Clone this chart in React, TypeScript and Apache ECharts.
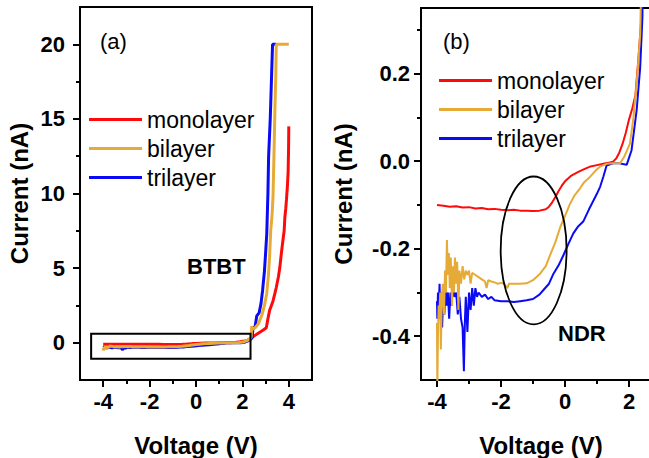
import React, { useEffect, useRef } from "react";
import * as echarts from "echarts";

const NAMES = ["monolayer", "bilayer", "trilayer"];
const COLORS = ["#FF0A0A", "#E6AA36", "#0A0AF5"];

// monolayer (red)
const monoV = [-4.0, -3.8, -3.6, -3.4, -3.2, -3.0, -2.8, -2.6, -2.4, -2.2, -2.0, -1.8, -1.6, -1.4, -1.2, -1.0, -0.8, -0.6, -0.5, -0.4, -0.3, -0.2, -0.1, 0.0, 0.2, 0.4, 0.6, 0.8, 1.0, 1.2, 1.4, 1.5, 1.6, 1.7, 1.8, 1.9, 2.0, 2.1, 2.2, 2.3, 2.4, 2.5, 2.7, 2.9, 3.03, 3.1, 3.17, 3.25, 3.32, 3.4, 3.46, 3.55, 3.61, 3.68, 3.75, 3.8, 3.83, 3.87, 3.9, 3.94, 3.97, 3.99, 4.0];
const monoI = [-0.1, -0.102, -0.104, -0.103, -0.106, -0.105, -0.108, -0.107, -0.11, -0.109, -0.111, -0.112, -0.111, -0.113, -0.113, -0.114, -0.113, -0.11, -0.104, -0.094, -0.082, -0.068, -0.056, -0.046, -0.033, -0.025, -0.018, -0.012, -0.009, -0.006, -0.003, -0.001, 0.006, 0.02, 0.04, 0.065, 0.095, 0.12, 0.15, 0.24, 0.34, 0.45, 0.65, 0.85, 1.0, 1.6, 2.15, 2.5, 2.8, 3.3, 3.7, 4.4, 5.0, 6.0, 6.9, 7.5, 8.4, 9.0, 9.6, 10.5, 11.4, 13.0, 14.5];

// bilayer (orange)
const biV = [-4.0, -3.99, -3.97, -3.95, -3.93, -3.9, -3.88, -3.85, -3.82, -3.78, -3.75, -3.72, -3.69, -3.66, -3.63, -3.6, -3.57, -3.53, -3.5, -3.47, -3.44, -3.4, -3.37, -3.33, -3.3, -3.25, -3.2, -3.15, -3.1, -3.05, -3.0, -2.95, -2.9, -2.8, -2.7, -2.6, -2.5, -2.45, -2.4, -2.3, -2.2, -2.1, -2.0, -1.9, -1.8, -1.75, -1.6, -1.4, -1.2, -1.0, -0.78, -0.6, -0.47, -0.3, -0.15, 0.0, 0.16, 0.3, 0.47, 0.6, 0.78, 0.95, 1.1, 1.3, 1.5, 1.72, 1.85, 2.03, 2.14, 2.24, 2.35, 2.38, 2.4, 2.45, 2.55, 2.7, 2.85, 2.95, 3.05, 3.12, 3.17, 3.22, 3.28, 3.32, 3.36, 3.4, 3.44, 3.46, 4.0];
const biI = [-0.37, -0.52, -0.4, -0.33, -0.36, -0.3, -0.43, -0.32, -0.28, -0.35, -0.25, -0.3, -0.18, -0.26, -0.21, -0.29, -0.22, -0.33, -0.24, -0.3, -0.22, -0.28, -0.23, -0.34, -0.25, -0.28, -0.24, -0.27, -0.25, -0.26, -0.25, -0.28, -0.255, -0.26, -0.265, -0.27, -0.275, -0.29, -0.272, -0.275, -0.277, -0.28, -0.278, -0.28, -0.29, -0.28, -0.28, -0.28, -0.279, -0.272, -0.257, -0.24, -0.215, -0.185, -0.151, -0.125, -0.097, -0.078, -0.062, -0.048, -0.036, -0.022, -0.012, -0.006, -0.005, -0.005, 0.01, 0.04, 0.1, 0.178, 0.29, 0.4, 1.1, 0.9, 1.0, 1.3, 1.9, 2.5, 3.3, 4.5, 5.7, 7.5, 8.6, 9.8, 12.5, 15.5, 18.0, 20.0, 20.0];

// trilayer (blue)
const triV = [-4.0, -3.99, -3.97, -3.95, -3.92, -3.9, -3.87, -3.84, -3.8, -3.77, -3.74, -3.7, -3.66, -3.62, -3.58, -3.55, -3.5, -3.45, -3.4, -3.35, -3.3, -3.25, -3.2, -3.16, -3.13, -3.1, -3.05, -3.0, -2.95, -2.9, -2.85, -2.8, -2.75, -2.7, -2.6, -2.5, -2.4, -2.3, -2.2, -2.0, -1.8, -1.6, -1.4, -1.2, -1.0, -0.8, -0.68, -0.5, -0.36, -0.2, -0.05, 0.1, 0.26, 0.4, 0.57, 0.75, 0.89, 1.0, 1.1, 1.2, 1.3, 1.5, 1.7, 1.93, 2.08, 2.24, 2.35, 2.42, 2.45, 2.55, 2.62, 2.72, 2.8, 2.87, 2.95, 3.0, 3.05, 3.1, 3.13, 3.2, 3.26, 3.3, 3.45];
const triI = [-0.32, -0.36, -0.3, -0.34, -0.28, -0.36, -0.3, -0.38, -0.29, -0.35, -0.29, -0.33, -0.3, -0.36, -0.3, -0.33, -0.29, -0.31, -0.3, -0.35, -0.31, -0.36, -0.38, -0.48, -0.37, -0.31, -0.39, -0.3, -0.34, -0.29, -0.33, -0.29, -0.31, -0.3, -0.31, -0.305, -0.315, -0.31, -0.318, -0.32, -0.32, -0.322, -0.32, -0.318, -0.315, -0.305, -0.295, -0.28, -0.257, -0.238, -0.215, -0.19, -0.165, -0.15, -0.138, -0.11, -0.09, -0.074, -0.058, -0.035, -0.01, -0.005, -0.005, -0.008, 0.025, 0.117, 0.215, 0.33, 0.9, 1.1, 1.8, 2.0, 2.6, 3.5, 4.8, 6.0, 7.3, 10.0, 12.5, 15.0, 18.0, 20.0, 20.0];

// annotations
const boxV = [-4.52, 2.35]; // rectangle in (a)
const boxI = [-1.08, 0.6];
const ndrCenter = [-0.98, -0.204]; // ellipse in (b)
const ndrRadius = [1.03, 0.169];

// axes ticks
const aXMajor = [-4, -2, 0, 2, 4];
const aXMinor = [-3, -1, 1, 3];
const aYMajor = [0, 5, 10, 15, 20];
const aYMinor = [2.5, 7.5, 12.5, 17.5];
const bXMajor = [-4, -2, 0, 2];
const bXMinor = [-3, -1, 1];
const bYMajor = [-0.4, -0.2, 0.0, 0.2];
const bYMinor = [-0.3, -0.1, 0.1, 0.3];

const FONT = '"Liberation Sans", Arial, sans-serif';

const pairs = (v: number[], i: number[]) => v.map((x, k) => [x, i[k]]);

function axisPair(
  kind: "x" | "y",
  grid: number,
  min: number,
  max: number,
  major: number[],
  minor: number[],
  fmt: (v: number) => string,
  margin: number,
  name: string,
  nameGap: number
) {
  const main: any = {
    type: "value",
    gridIndex: grid,
    min,
    max,
    position: kind === "x" ? "bottom" : "left",
    axisLine: { show: true, onZero: false, lineStyle: { color: "#000", width: 2 } },
    axisTick: {
      show: true,
      customValues: [...major, ...minor].sort((a, b) => a - b),
      length: 4,
      lineStyle: { color: "#000", width: 2 },
    },
    axisLabel: {
      show: true,
      customValues: major,
      formatter: fmt,
      margin,
      color: "#000",
      fontSize: 22,
      fontWeight: "bold",
      fontFamily: FONT,
    },
    splitLine: { show: false },
    name,
    nameLocation: "middle",
    nameGap,
    nameTextStyle: { color: "#000", fontSize: 24, fontWeight: "bold", fontFamily: FONT },
  };
  const over: any = {
    type: "value",
    gridIndex: grid,
    min,
    max,
    position: kind === "x" ? "bottom" : "left",
    axisLine: { show: false, onZero: false },
    axisTick: { show: true, customValues: major, length: 7, lineStyle: { color: "#000", width: 2 } },
    axisLabel: { show: false },
    splitLine: { show: false },
  };
  return [main, over];
}

export default function App() {
  const ref = useRef<HTMLDivElement>(null);
  useEffect(() => {
    if (!ref.current) return;
    const chart = echarts.init(ref.current, undefined, { renderer: "svg" });
    const datasets = [pairs(monoV, monoI), pairs(biV, biI), pairs(triV, triI)];
    const order = [0, 2, 1]; // draw orange on top
    const lineSeries: any[] = [];
    [0, 1].forEach((panel) => {
      order.forEach((k, zi) => {
        lineSeries.push({
          type: "line",
          name: NAMES[k],
          xAxisIndex: panel * 2,
          yAxisIndex: panel * 2,
          data: datasets[k],
          showSymbol: false,
          symbol: "none",
          clip: true,
          z: 2 + zi,
          lineStyle: { color: COLORS[k], width: panel === 0 ? 3 : 2 },
          itemStyle: { color: COLORS[k] },
        });
      });
    });
    const ax = [
      ...axisPair("x", 0, -5, 5, aXMajor, aXMinor, (v) => String(v), 10, "Voltage (V)", 53),
      ...axisPair("x", 1, -4.5, 3, bXMajor, bXMinor, (v) => String(v), 10, "Voltage (V)", 53),
    ];
    const ay = [
      ...axisPair("y", 0, -2.5, 22.5, aYMajor, aYMinor, (v) => String(v), 15, "Current (nA)", 49),
      ...axisPair("y", 1, -0.5, 0.35, bYMajor, bYMinor, (v) => v.toFixed(1), 11, "Current (nA)", 66),
    ];
    const legendBase = {
      orient: "vertical",
      data: NAMES,
      icon: "rect",
      itemWidth: 53,
      itemHeight: 3,
      itemGap: 6,
      padding: 0,
      selectedMode: false,
      textStyle: { color: "#000", fontSize: 23, fontFamily: FONT, lineHeight: 22 },
    };
    chart.setOption({
      animation: false,
      backgroundColor: "#fff",
      grid: [
        { left: 80, top: 7, width: 232, bottom: 78, outerBoundsMode: "none", containLabel: false, show: true, borderColor: "#000", borderWidth: 2, backgroundColor: "transparent" },
        { left: 421, top: 8, width: 240, bottom: 78, outerBoundsMode: "none", containLabel: false, show: true, borderColor: "#000", borderWidth: 2, backgroundColor: "transparent" },
      ],
      xAxis: ax,
      yAxis: ay,
      legend: [
        { ...legendBase, left: 89, top: 108 },
        { ...legendBase, left: 439, top: 69 },
      ],
      series: [
        ...lineSeries,
        {
          type: "custom",
          xAxisIndex: 0,
          yAxisIndex: 0,
          silent: true,
          z: 10,
          clip: false,
          data: [[boxV[0], boxI[0], boxV[1], boxI[1]]],
          encode: { x: [0, 2], y: [1, 3] },
          renderItem: (params: any, api: any) => {
            const p1 = api.coord([api.value(0), api.value(3)]);
            const p2 = api.coord([api.value(2), api.value(1)]);
            return {
              type: "rect",
              shape: { x: p1[0], y: p1[1], width: p2[0] - p1[0], height: p2[1] - p1[1] },
              style: { fill: "none", stroke: "#000", lineWidth: 2 },
            };
          },
        },
        {
          type: "custom",
          xAxisIndex: 2,
          yAxisIndex: 2,
          silent: true,
          z: 10,
          clip: false,
          data: [[ndrCenter[0], ndrCenter[1], ndrRadius[0], ndrRadius[1]]],
          encode: { x: 0, y: 1 },
          renderItem: (params: any, api: any) => {
            const c = api.coord([api.value(0), api.value(1)]);
            const s = api.size([api.value(2), api.value(3)]);
            return {
              type: "ellipse",
              shape: { cx: c[0], cy: c[1], rx: s[0], ry: s[1] },
              style: { fill: "none", stroke: "#000", lineWidth: 1.8 },
            };
          },
        },
      ],
      graphic: [
        { type: "text", x: 100, y: 41, style: { text: "(a)", fontSize: 22, fontFamily: FONT, fill: "#000", verticalAlign: "middle" } },
        { type: "text", x: 443, y: 41, style: { text: "(b)", fontSize: 22, fontFamily: FONT, fill: "#000", verticalAlign: "middle" } },
        { type: "text", x: 187, y: 266, style: { text: "BTBT", fontSize: 22, fontWeight: "bold", fontFamily: FONT, fill: "#000", verticalAlign: "middle" } },
        { type: "text", x: 558, y: 333, style: { text: "NDR", fontSize: 22, fontWeight: "bold", fontFamily: FONT, fill: "#000", verticalAlign: "middle" } },
      ],
    });
    return () => chart.dispose();
  }, []);
  return <div ref={ref} style={{ width: 649, height: 458, position: "fixed", left: 0, top: 0 }} />;
}
